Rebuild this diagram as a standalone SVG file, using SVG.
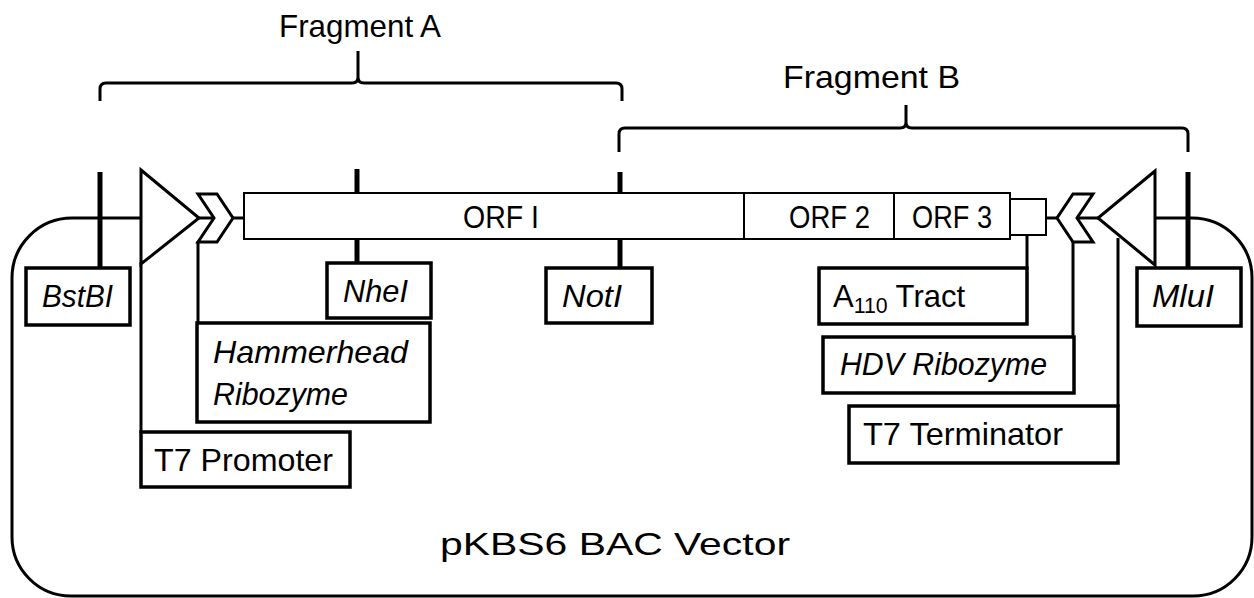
<svg xmlns="http://www.w3.org/2000/svg" width="1254" height="598" viewBox="0 0 1254 598">
  <style>
    text { font-family: "Liberation Sans", Arial, sans-serif; font-size: 32px; fill: #000; }
    .it { font-style: italic; }
    .box { fill: #fff; stroke: #000; stroke-width: 3.5; }
    .orf { fill: #fff; stroke: #000; stroke-width: 2; }
    .ln { fill: none; stroke: #000; stroke-width: 3; }
    .cut { fill: none; stroke: #000; stroke-width: 5; }
    .shape { fill: #fff; stroke: #000; stroke-width: 3; stroke-linejoin: miter; }
  </style>

  <rect width="1254" height="598" fill="#fff"/>

  <!-- vector backbone (rounded outline) -->
  <g id="vector">
    <path class="ln" d="M141,218 H72 A60,60 0 0 0 12,278 V537 A59,59 0 0 0 71,596 H1193 A59,59 0 0 0 1252,537 V278 A60,60 0 0 0 1192,218 H1155"/>
    <text x="440" y="555" font-size="45" textLength="350" lengthAdjust="spacingAndGlyphs">pKBS6 BAC Vector</text>
  </g>

  <!-- fragment braces -->
  <g id="fragment-a">
    <path class="ln" d="M100,101 V89 Q100,83 106,83 H352 Q358,83 358,77 V51 V77 Q358,83 364,83 H616 Q622,83 622,89 V101"/>
    <text x="279" y="37" textLength="162" lengthAdjust="spacingAndGlyphs">Fragment A</text>
  </g>
  <g id="fragment-b">
    <path class="ln" d="M619,152 V134 Q619,128 625,128 H900 Q906,128 906,122 V105 V122 Q906,128 912,128 H1182 Q1188,128 1188,134 V152"/>
    <text x="783" y="88" textLength="177" lengthAdjust="spacingAndGlyphs">Fragment B</text>
  </g>

  <!-- connectors: backbone segments and leader lines -->
  <g id="connectors">
    <line class="ln" x1="199" y1="218" x2="214" y2="218"/>
    <line class="ln" x1="233" y1="218" x2="245" y2="218"/>
    <line class="ln" x1="1045" y1="218" x2="1057" y2="218"/>
    <line class="ln" x1="1076" y1="218" x2="1099" y2="218"/>
    <line class="ln" x1="141" y1="262" x2="141" y2="433"/>
    <line class="ln" x1="198" y1="241" x2="198" y2="324"/>
    <line class="ln" x1="1027" y1="235" x2="1027" y2="269"/>
    <line class="ln" x1="1073" y1="241" x2="1073" y2="338"/>
    <line class="ln" x1="1118" y1="238" x2="1118" y2="407"/>
    <line class="cut" x1="100" y1="172" x2="100" y2="269"/>
    <line class="cut" x1="357" y1="169" x2="357" y2="264"/>
    <line class="cut" x1="620" y1="172" x2="620" y2="269"/>
    <line class="cut" x1="1188" y1="172" x2="1188" y2="269"/>
  </g>

  <!-- open reading frames -->
  <g id="orf">
    <rect class="orf" x="244" y="193" width="500" height="46"/>
    <rect class="orf" x="744" y="193" width="150" height="46"/>
    <rect class="orf" x="894" y="193" width="116" height="46"/>
    <text x="463" y="228" textLength="76" lengthAdjust="spacingAndGlyphs">ORF I</text>
    <text x="789" y="228" textLength="81" lengthAdjust="spacingAndGlyphs">ORF 2</text>
    <text x="912" y="228" textLength="80" lengthAdjust="spacingAndGlyphs">ORF 3</text>
  </g>

  <g id="a110-block">
    <rect class="orf" x="1010" y="199" width="36" height="36"/>
  </g>

  <g id="t7-promoter-symbol">
    <polygon class="shape" points="141,170 199,218 141,264"/>
  </g>
  <g id="hammerhead-symbol">
    <polygon class="shape" points="198,194 217,194 233,218 217,242 198,242 214,218"/>
  </g>
  <g id="hdv-symbol">
    <polygon class="shape" points="1093,194 1073,194 1057,218 1073,242 1093,242 1077,218"/>
  </g>
  <g id="t7-terminator-symbol">
    <polygon class="shape" points="1155,171 1098,218 1155,265"/>
  </g>

  <!-- labels -->
  <g id="bstbi">
    <rect class="box" x="26" y="268" width="104" height="57"/>
    <text class="it" x="42" y="307" textLength="71" lengthAdjust="spacingAndGlyphs">BstBI</text>
  </g>
  <g id="nhei">
    <rect class="box" x="327" y="263" width="104" height="55"/>
    <text class="it" x="343" y="302" textLength="65" lengthAdjust="spacingAndGlyphs">NheI</text>
  </g>
  <g id="noti">
    <rect class="box" x="546" y="268" width="106" height="55"/>
    <text class="it" x="562" y="307" textLength="60" lengthAdjust="spacingAndGlyphs">NotI</text>
  </g>
  <g id="mlui">
    <rect class="box" x="1137" y="268" width="104" height="58"/>
    <text class="it" x="1152" y="307" textLength="62" lengthAdjust="spacingAndGlyphs">MluI</text>
  </g>
  <g id="hammerhead">
    <rect class="box" x="197" y="323" width="233" height="99"/>
    <text class="it" x="213" y="363" textLength="195" lengthAdjust="spacingAndGlyphs">Hammerhead</text>
    <text class="it" x="213" y="405" textLength="135" lengthAdjust="spacingAndGlyphs">Ribozyme</text>
  </g>
  <g id="t7-promoter">
    <rect class="box" x="141" y="432" width="209" height="55"/>
    <text x="154" y="471" textLength="179" lengthAdjust="spacingAndGlyphs">T7 Promoter</text>
  </g>
  <g id="a110-tract">
    <rect class="box" x="819" y="268" width="208" height="56"/>
    <text x="833" y="307" textLength="132" lengthAdjust="spacingAndGlyphs">A<tspan font-size="22" dy="6">110</tspan><tspan dy="-6"> Tract</tspan></text>
  </g>
  <g id="hdv-ribozyme">
    <rect class="box" x="823" y="337" width="251" height="56"/>
    <text class="it" x="840" y="375" textLength="207" lengthAdjust="spacingAndGlyphs">HDV Ribozyme</text>
  </g>
  <g id="t7-terminator">
    <rect class="box" x="849" y="406" width="269" height="57"/>
    <text x="863" y="445" textLength="200" lengthAdjust="spacingAndGlyphs">T7 Terminator</text>
  </g>
</svg>
